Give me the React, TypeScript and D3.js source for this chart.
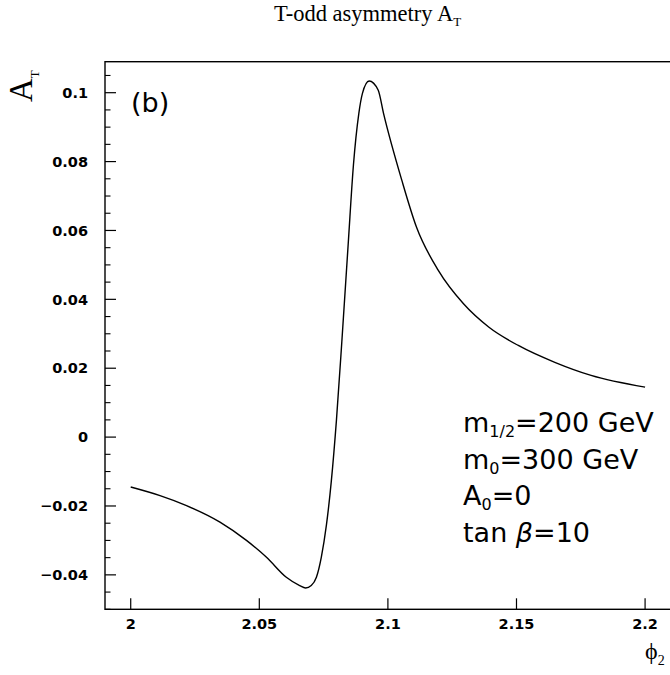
import React from "react";
import * as d3 from "d3";

// ---- data ----
const phi: number[] = [
  2.0, 2.0114, 2.0217, 2.0347, 2.045, 2.0528, 2.0605, 2.0657, 2.068, 2.0702,
  2.0722, 2.0741, 2.0761, 2.078, 2.08, 2.0822, 2.0846, 2.0866, 2.0887,
  2.0901, 2.0927, 2.0962, 2.0983, 2.1054, 2.1111, 2.1196, 2.1294, 2.1393,
  2.1507, 2.1649, 2.179, 2.2,
];
const asym: number[] = [
  -0.0145, -0.017, -0.0199, -0.0247, -0.03, -0.0349, -0.0407, -0.0431, -0.0438,
  -0.0431, -0.0407, -0.0349, -0.0255, -0.0128, 0.005, 0.029, 0.0565, 0.079,
  0.094, 0.0998, 0.1034, 0.1008, 0.094, 0.0746, 0.061, 0.0484, 0.0387, 0.0319,
  0.0266, 0.0217, 0.0179, 0.0145,
];
const xTicks: number[] = [2.0, 2.05, 2.1, 2.15, 2.2];
const xTickLabels: string[] = ["2", "2.05", "2.1", "2.15", "2.2"];
const yTicks: number[] = [0.1, 0.08, 0.06, 0.04, 0.02, 0, -0.02, -0.04];
const yTickLabels: string[] = ["0.1", "0.08", "0.06", "0.04", "0.02", "0", "\u22120.02", "\u22120.04"];
const xDomain: [number, number] = [1.99, 2.21];
const yDomain: [number, number] = [-0.05, 0.109];
const yMinorStep = 0.005;

const W = 670;
const H = 675;
const L = 105, R = 670.8, T = 61.7, B = 609.3;

const numFont = "'DejaVu Sans', sans-serif";
const serif = "'Liberation Serif', 'Times New Roman', serif";

export default function App() {
  const x = d3.scaleLinear().domain(xDomain).range([L, R]);
  const y = d3.scaleLinear().domain(yDomain).range([B, T]);
  const pts: [number, number][] = phi.map((p, i) => [p, asym[i]]);
  const line = d3
    .line<[number, number]>()
    .x((d) => x(d[0]))
    .y((d) => y(d[1]))
    .curve(d3.curveMonotoneX);

  const minor: number[] = d3.range(-0.05, 0.1075, yMinorStep).filter(
    (v) => Math.abs(Math.round(v / 0.02) * 0.02 - v) > 1e-6
  );

  return (
    <svg
      width={W}
      height={H}
      style={{ position: "absolute", left: 0, top: 0, background: "#fff" }}
    >
      <rect x={0} y={0} width={W} height={H} fill="#fff" />
      {/* title */}
      <text x={274} y={21} fontFamily={serif} fontSize={22.5}>
        T-odd asymmetry A
        <tspan fontSize={13} dy={4.5}>T</tspan>
      </text>

      {/* frame */}
      <rect x={L} y={T} width={R - L} height={B - T} fill="none" stroke="#000" strokeWidth={1.4} />

      {/* y ticks */}
      {yTicks.map((v, i) => (
        <g key={"y" + i}>
          <line x1={L} x2={L + 11} y1={y(v)} y2={y(v)} stroke="#000" strokeWidth={1.2} />
          <text
            x={88}
            y={y(v)}
            dy="0.36em"
            textAnchor="end"
            fontFamily={numFont}
            fontWeight="bold"
            fontSize={14.5}
          >
            {yTickLabels[i]}
          </text>
        </g>
      ))}
      {minor.map((v, i) => (
        <line key={"m" + i} x1={L} x2={L + 5.5} y1={y(v)} y2={y(v)} stroke="#000" strokeWidth={1.1} />
      ))}

      {/* x ticks */}
      {xTicks.map((v, i) => (
        <g key={"x" + i}>
          <line x1={x(v)} x2={x(v)} y1={B} y2={B - 11} stroke="#000" strokeWidth={1.2} />
          <text
            x={x(v)}
            y={628.7}
            textAnchor="middle"
            fontFamily={numFont}
            fontWeight="bold"
            fontSize={14.5}
          >
            {xTickLabels[i]}
          </text>
        </g>
      ))}

      {/* curve */}
      <path d={line(pts) || ""} fill="none" stroke="#000" strokeWidth={1.4} />

      {/* axis titles */}
      <text
        transform={`translate(31.5,102) rotate(-90)`}
        fontFamily={serif}
        fontSize={33}
      >
        A<tspan fontSize={13} dy={7}>T</tspan>
      </text>
      <text x={645} y={659} fontFamily={serif} fontSize={24}>
        ϕ<tspan fontSize={14} dy={6}>2</tspan>
      </text>

      {/* panel label */}
      <text x={131} y={112} fontFamily={numFont} fontSize={27}>
        (b)
      </text>

      {/* parameter legend */}
      <g fontFamily={numFont} fontSize={27}>
        <text x={463} y={432}>
          m<tspan fontSize={16} dy={5}>1/2</tspan>
          <tspan dy={-5}>=200 GeV</tspan>
        </text>
        <text x={463} y={468.5}>
          m<tspan fontSize={16} dy={5}>0</tspan>
          <tspan dy={-5}>=300 GeV</tspan>
        </text>
        <text x={463} y={505}>
          A<tspan fontSize={16} dy={5}>0</tspan>
          <tspan dy={-5}>=0</tspan>
        </text>
        <text x={463} y={541.5}>
          tan <tspan fontStyle="italic">β</tspan>=10
        </text>
      </g>
    </svg>
  );
}
